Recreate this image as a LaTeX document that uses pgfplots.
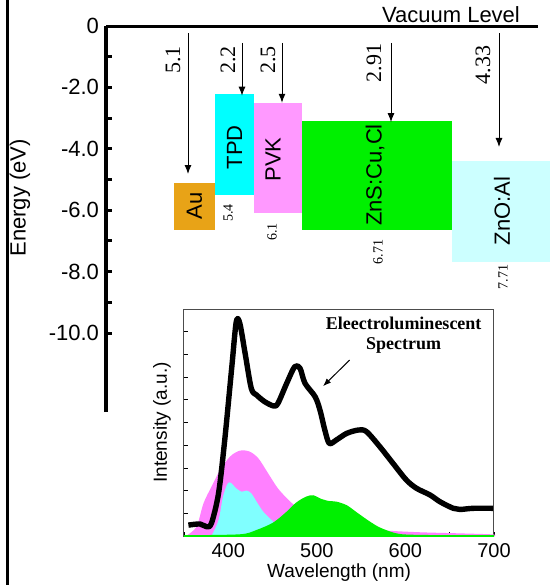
\documentclass[border=0pt]{standalone}
\usepackage{pgfplots}
\pgfplotsset{compat=1.18}
\usetikzlibrary{arrows.meta}
\usepackage{fontspec}
\setmainfont{Liberation Sans}
\newfontfamily\serif{Liberation Serif}

\definecolor{aucol}{HTML}{E8A317}
\definecolor{tpdcol}{HTML}{00FFFF}
\definecolor{pvkcol}{HTML}{FF99FF}
\definecolor{znscol}{HTML}{00F000}
\definecolor{znocol}{HTML}{CCFFFF}
\definecolor{plpink}{HTML}{FF80FF}
\definecolor{plcyan}{HTML}{80FFFF}

\begin{document}
\begin{tikzpicture}
\useasboundingbox (0,0) rectangle (276.5pt,-292.5pt);

% energy level diagram, x in pixels
\begin{axis}[
  at={(53pt,-206pt)}, anchor=south west,
  scale only axis, width=223.5pt, height=193pt,
  xmin=106, xmax=553, ymin=-12.57, ymax=0,
  clip=false,
  axis x line=none,
  axis y line=left,
  axis line style={-, line width=1.7pt},
  ytick={-10,-8,-6,-4,-2,0},
  yticklabels={-10.0,-8.0,-6.0,-4.0,-2.0,0},
  minor ytick={-9,-7,-5,-3,-1},
  tick align=inside,
  major tick length=3pt, minor tick length=3pt,
  every tick/.style={line width=1.5pt, black},
  yticklabel style={font=\fontsize{11}{12}\selectfont},
]
% vertical border line on the left
\addplot[line width=1.5pt] coordinates {(8,1) (8,-19)};
% vacuum level
\addplot[line width=1.5pt] coordinates {(106,0) (538,0)};
\node[font=\fontsize{11}{12}\selectfont] at (axis cs:451,0.36) {Vacuum Level};
\node[rotate=90, font=\fontsize{11}{12}\selectfont] at (axis cs:20,-5.6) {Energy (eV)};

% boxes
\addplot[fill=aucol, draw=none] coordinates {(174,-5.1) (215,-5.1) (215,-6.65) (174,-6.65)} -- cycle;
\addplot[fill=tpdcol, draw=none] coordinates {(215,-2.2) (254,-2.2) (254,-5.5) (215,-5.5)} -- cycle;
\addplot[fill=pvkcol, draw=none] coordinates {(254,-2.5) (302,-2.5) (302,-6.1) (254,-6.1)} -- cycle;
\addplot[fill=znscol, draw=none] coordinates {(302,-3.08) (452,-3.08) (452,-6.65) (302,-6.65)} -- cycle;
\addplot[fill=znocol, draw=none] coordinates {(452,-4.38) (550,-4.38) (550,-7.69) (452,-7.69)} -- cycle;

% arrows
\draw[-{Latex[length=4.5pt,width=3.5pt]}, line width=0.5pt] (axis cs:188,-0.23) -- (axis cs:188,-4.82);
\draw[-{Latex[length=4.5pt,width=3.5pt]}, line width=0.5pt] (axis cs:242,-0.55) -- (axis cs:242,-2.27);
\draw[-{Latex[length=4.5pt,width=3.5pt]}, line width=0.5pt] (axis cs:282,-0.55) -- (axis cs:282,-2.5);
\draw[-{Latex[length=4.5pt,width=3.5pt]}, line width=0.5pt] (axis cs:391,-0.55) -- (axis cs:391,-3.13);
\draw[-{Latex[length=4.5pt,width=3.5pt]}, line width=0.5pt] (axis cs:499,-0.23) -- (axis cs:499,-3.94);

% box labels
\begin{scope}[every node/.style={rotate=90, font=\fontsize{11}{12}\selectfont}]
\node at (axis cs:194.5,-5.86) {Au};
\node at (axis cs:234.5,-3.95) {TPD};
\node at (axis cs:273,-4.35) {PVK};
\node at (axis cs:375,-4.85) {ZnS:Cu,Cl};
\node at (axis cs:502,-6.03) {ZnO:Al};
\end{scope}
\begin{scope}[every node/.style={rotate=90, font=\serif\fontsize{11}{12}\selectfont}]
\node at (axis cs:173,-1.11) {5.1};
\node at (axis cs:228,-1.11) {2.2};
\node at (axis cs:268,-1.11) {2.5};
\node at (axis cs:374,-1.2) {2.91};
\node at (axis cs:483,-1.27) {4.33};
\end{scope}
\begin{scope}[every node/.style={rotate=90, font=\serif\fontsize{7}{8}\selectfont}]
\node at (axis cs:228,-6.09) {5.4};
\node at (axis cs:272,-6.71) {6.1};
\node at (axis cs:378,-7.36) {6.71};
\node at (axis cs:503,-8.18) {7.71};
\end{scope}
\end{axis}

% inset spectrum
\begin{axis}[
  at={(92pt,-268pt)}, anchor=south west,
  scale only axis, width=155pt, height=113.5pt,
  xmin=350, xmax=700, ymin=0, ymax=10,
  clip=false,
  axis line style={line width=0.5pt, black!70},
  xtick={400,500,600,700}, minor xtick={350,450,550,650},
  ytick={1,2,3,4,5,6,7,8,9}, yticklabels={},
  xtick pos=bottom, ytick pos=left,
  tick align=inside,
  major tick length=2pt, minor tick length=2pt,
  every tick/.style={line width=0.4pt, black},
  xticklabel style={font=\fontsize{10}{11}\selectfont},
  /pgf/number format/assume math mode=true,
  xlabel={Wavelength (nm)}, ylabel={Intensity (a.u.)},
  xlabel style={font=\fontsize{9.5}{10}\selectfont, at={(axis description cs:0.5,-0.163)}, anchor=center},
  ylabel style={font=\fontsize{9.5}{10}\selectfont, at={(axis description cs:-0.071,0.5)}, anchor=center},
]
\addplot[fill=plpink, draw=none, smooth] coordinates {
(352,0) (364,0.4) (372,1.44) (381,2.17) (390.6,2.9) (402,3.5) (413,3.76) (424,3.72)
(434,3.42) (445,2.76) (456,2.1) (468,1.59) (479,1.22) (496,0.85) (511,0.63) (534,0.48)
(564,0.29) (586,0.22) (620,0.16) (658,0.12) (699,0.07) (700,0)} -- cycle;
\addplot[fill=plcyan, draw=none, smooth] coordinates {
(381,0) (389,0.7) (394,1.73) (399,2.29) (402.6,2.35) (409,2.1) (415,1.95) (420.7,2.0)
(426,1.88) (432,1.51) (439.5,1.07) (449,0.7) (458,0.41) (473,0.16) (496,0.04) (511,0)} -- cycle;
\addplot[fill=znscol, draw=znscol, line width=0.8pt, smooth] coordinates {
(350,0) (413,0.04) (432,0.23) (451,0.56) (466,1.03) (477,1.44) (488,1.7) (496,1.76)
(503.5,1.62) (513,1.51) (522,1.48) (533.6,1.32) (545,1.0) (560,0.59) (571,0.34)
(586,0.12) (601,0.03) (650,0) (700,0)} -- cycle;
\addplot[black, line width=2.7pt, line join=round, smooth, tension=0.5] coordinates {
(355,0.48) (368,0.53) (375.5,0.41) (381,0.56) (389,1.88) (396,4.23) (404,7.46)
(409,9.44) (413,9.37) (419,8.05) (426,6.5) (432,6.21) (441,5.92) (451,5.73)
(456,5.84) (466,6.73) (475,7.46) (481,7.39) (486.6,6.73) (498,6.14) (503.5,5.55)
(509,4.67) (514,4.08) (522,4.23) (533.6,4.52) (547,4.67) (556,4.6) (571,3.94)
(586,3.2) (601,2.47) (612.6,2.1) (627.7,1.81) (639,1.51) (654,1.22) (661.6,1.17)
(676.6,1.22) (699,1.22)};
\node[font=\serif\bfseries\fontsize{9}{10}\selectfont, align=center] at (axis cs:598,8.85) {Eleectroluminescent\\Spectrum};
\draw[-{Latex[length=4pt,width=3pt]}, line width=0.5pt] (axis cs:537,7.75) -- (axis cs:507,6.6);
\end{axis}
\end{tikzpicture}
\end{document}
